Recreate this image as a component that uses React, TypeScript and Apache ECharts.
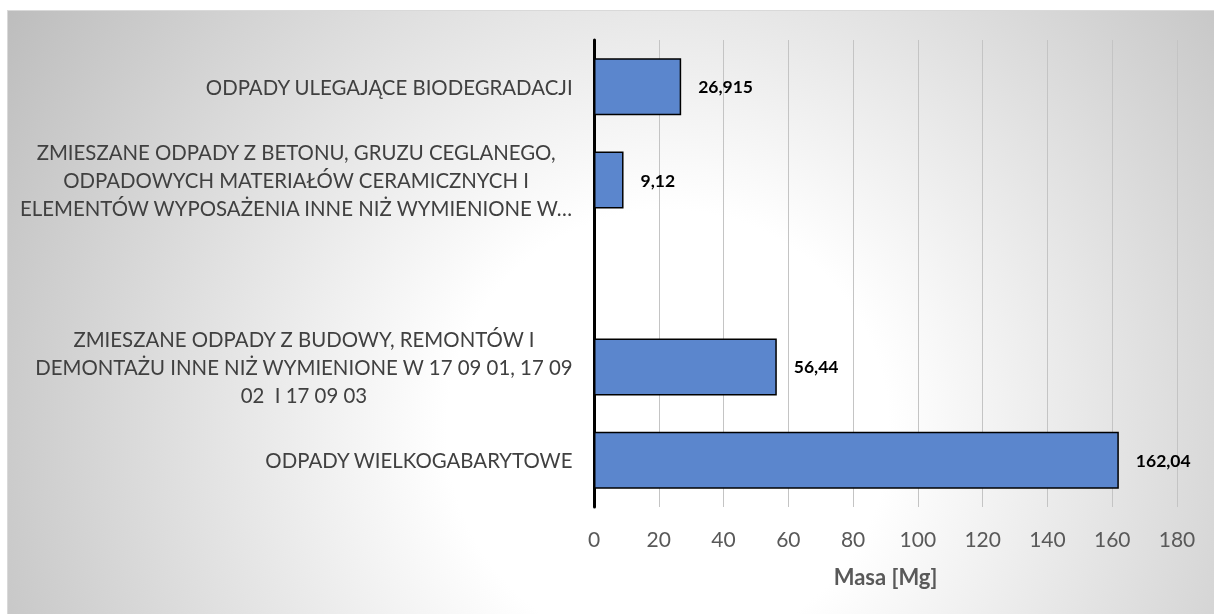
import React, { useEffect, useRef } from "react";
import * as echarts from "echarts";

const categories: string[] = [
  "ODPADY ULEGAJĄCE BIODEGRADACJI",
  "ZMIESZANE ODPADY Z BETONU, GRUZU CEGLANEGO,\nODPADOWYCH MATERIAŁÓW CERAMICZNYCH I\nELEMENTÓW WYPOSAŻENIA INNE NIŻ WYMIENIONE W…",
  "",
  "ZMIESZANE ODPADY Z BUDOWY, REMONTÓW I\nDEMONTAŻU INNE NIŻ WYMIENIONE W 17 09 01, 17 09\n02  I 17 09 03",
  "ODPADY WIELKOGABARYTOWE",
];
const values: (number | null)[] = [26.915, 9.12, null, 56.44, 162.04];
const xTicks = { min: 0, max: 180, interval: 20 };
const axisTitle = "Masa [Mg]";

const FONT = "Lato, 'Open Sans', sans-serif";

export default function App() {
  const ref = useRef<HTMLDivElement>(null);
  useEffect(() => {
    if (!ref.current) return;
    const chart = echarts.init(ref.current, undefined, { renderer: "svg" });
    chart.setOption({
      animation: false,
      backgroundColor: {
        type: "radial",
        x: 660,
        y: 420,
        r: 790,
        global: true,
        colorStops: [
          { offset: 0, color: "#ffffff" },
          { offset: 0.28, color: "#ffffff" },
          { offset: 1, color: "#bcbcbc" },
        ],
      },
      grid: { left: 586, right: 37, top: 29, bottom: 107, containLabel: false },
      xAxis: {
        type: "value",
        min: xTicks.min,
        max: xTicks.max,
        interval: xTicks.interval,
        axisLine: { show: false },
        axisTick: { show: false },
        splitLine: { show: true, lineStyle: { color: "#c4c4c4", width: 1 } },
        axisLabel: { color: "#595959", fontSize: 21, fontFamily: FONT, margin: 21 },
        name: axisTitle,
        nameLocation: "middle",
        nameGap: 58,
        nameTextStyle: { color: "#595959", fontSize: 22, fontWeight: "bold", fontFamily: FONT },
      },
      yAxis: {
        type: "category",
        inverse: true,
        data: categories,
        axisLine: { show: true, lineStyle: { color: "#000000", width: 3 } },
        axisTick: { show: false },
        splitLine: { show: false },
        axisLabel: {
          margin: 21,
          align: "right",
          formatter: (v: string) =>
            v ? v.split("\n").map((l) => `{c|${l}}`).join("\n") : "",
          rich: {
            c: {
              align: "center",
              fontSize: 20.4,
              lineHeight: 28,
              color: "#404040",
              fontFamily: FONT,
            },
          },
        },
      },
      series: [
        {
          type: "bar",
          data: values,
          barCategoryGap: "39%",
          itemStyle: { color: "#5b86cd", borderColor: "#000000", borderWidth: 1.5 },
          label: {
            show: true,
            position: "right",
            distance: 17,
            color: "#000000",
            fontWeight: "bold",
            fontSize: 17.5,
            fontFamily: FONT,
            formatter: (p: any) =>
              p.value == null ? "" : String(p.value).replace(".", ","),
          },
        },
      ],
    });
    return () => chart.dispose();
  }, []);
  return (
    <div
      style={{
        position: "fixed",
        left: 7,
        top: 10,
        width: 1207,
        height: 604,
        borderLeft: "1px solid #d9d9d9",
        borderTop: "1px solid #d9d9d9",
        boxSizing: "border-box",
      }}
    >
      <div ref={ref} style={{ width: 1206, height: 603 }} />
    </div>
  );
}
